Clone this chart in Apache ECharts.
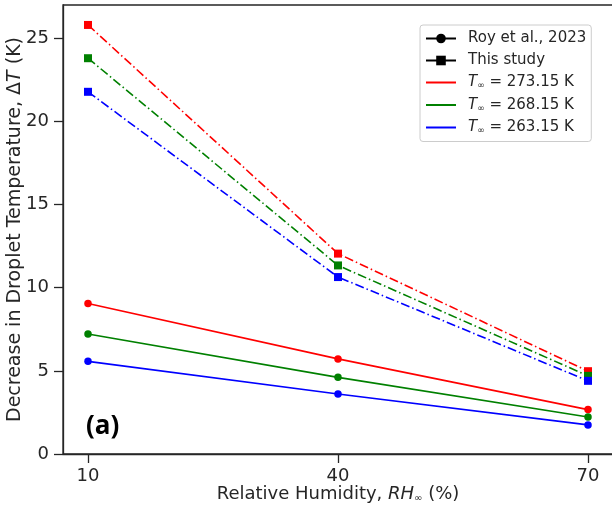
<!DOCTYPE html>
<html><head><meta charset="utf-8">
<script src="https://cdn.jsdelivr.net/npm/echarts@6/dist/echarts.min.js"></script>
<style>html,body{margin:0;padding:0;background:#fff}#c{width:612px;height:506px}</style>
</head><body><div id="c"></div>
<script>
const rh = [10, 40, 70];
const roy273 = [9.05, 5.72, 2.67];
const roy268 = [7.22, 4.61, 2.22];
const roy263 = [5.57, 3.61, 1.75];
const study273 = [25.8, 12.05, 4.98];
const study268 = [23.8, 11.34, 4.70];
const study263 = [21.78, 10.64, 4.40];
const xTicks = [10, 40, 70];
const yTicks = [0, 5, 10, 15, 20, 25];
const tempLabels = {T273: '273.15', T268: '268.15', T263: '263.15'};

const RED = '#ff0000', GREEN = '#008000', BLUE = '#0000ff';
const FONT = 'DejaVu Sans';
const AX = '#262626';
const dashDot = [9, 3, 1.5, 3];

function pts(arr) { return rh.map((x, i) => [x, arr[i]]); }
function dataSeries(arr, color, study) {
  return {
    type: 'line', data: pts(arr), color: color,
    symbol: study ? 'rect' : 'circle', symbolSize: study ? 8 : 7.5,
    lineStyle: {width: 1.6, type: study ? dashDot : 'solid', color: color},
    itemStyle: {color: color}, z: 3, silent: true
  };
}
function dummy(name, color, symbol, size) {
  return {
    name: name, type: 'line', data: [], color: color, symbol: symbol, symbolSize: size,
    lineStyle: {width: 2, color: color}, itemStyle: {color: color}
  };
}

const chart = echarts.init(document.getElementById('c'), null, {renderer: 'canvas'});
chart.setOption({
  animation: false,
  backgroundColor: '#fff',
  textStyle: {fontFamily: FONT},
  grid: {left: 63, top: 5, width: 550, height: 449, outerBoundsMode: 'none', containLabel: false,
    show: true, borderColor: AX, borderWidth: 1.3, backgroundColor: 'transparent'},
  xAxis: {
    type: 'value', min: 7, max: 73,
    axisLine: {show: true, lineStyle: {color: AX, width: 1.3}},
    axisTick: {show: true, length: 9, lineStyle: {color: AX, width: 1.3}, customValues: xTicks},
    axisLabel: {fontSize: 18, color: AX, margin: 13, fontFamily: FONT, customValues: xTicks},
    splitLine: {show: false},
    name: 'Relative Humidity, {i|RH}{s|∞} (%)',
    nameLocation: 'middle', nameGap: 31, nameMoveOverlap: false,
    nameTextStyle: {fontSize: 18, color: AX, fontFamily: FONT,
      rich: {i: {fontSize: 18, fontStyle: 'italic', color: AX, fontFamily: FONT},
             s: {fontSize: 10, color: AX, fontFamily: FONT, padding: [8, 0, 0, 0]}}}
  },
  yAxis: {
    type: 'value', min: 0, max: 27,
    axisLine: {show: true, lineStyle: {color: AX, width: 1.3}},
    axisTick: {show: true, length: 9, lineStyle: {color: AX, width: 1.3}, customValues: yTicks},
    axisLabel: {fontSize: 18, color: AX, margin: 14, fontFamily: FONT, customValues: yTicks},
    splitLine: {show: false},
    name: 'Decrease in Droplet Temperature, Δ{i|T} (K)',
    nameLocation: 'middle', nameGap: 38, nameRotate: 90, nameMoveOverlap: false,
    nameTextStyle: {fontSize: 19, color: AX, fontFamily: FONT,
      rich: {i: {fontSize: 19, fontStyle: 'italic', color: AX, fontFamily: FONT}}}
  },
  legend: {
    orient: 'vertical', left: 420, top: 25,
    padding: [6, 5, 6, 5], itemGap: 7, itemWidth: 30, itemHeight: 12,
    backgroundColor: '#fff', borderColor: '#cccccc', borderWidth: 1, borderRadius: 3,
    data: [
      {name: 'Roy et al., 2023'},
      {name: 'This study'},
      {name: 'T273', itemStyle: {opacity: 0}},
      {name: 'T268', itemStyle: {opacity: 0}},
      {name: 'T263', itemStyle: {opacity: 0}}
    ],
    formatter: function (n) {
      if (tempLabels[n]) return '{i|T}{s|∞} = ' + tempLabels[n] + ' K';
      return n;
    },
    textStyle: {fontSize: 15, color: AX, fontFamily: FONT, padding: [0, 0, 0, 7],
      rich: {i: {fontSize: 15, fontStyle: 'italic', color: AX, fontFamily: FONT},
             s: {fontSize: 9, color: AX, fontFamily: FONT, padding: [7, 0, 0, 0]}}}
  },
  graphic: [{
    type: 'text', left: 86, top: 414,
    style: {text: '(a)', font: 'bold 26px "Open Sans"', fill: '#000'}
  }],
  series: [
    dataSeries(study273, RED, true),
    dataSeries(study268, GREEN, true),
    dataSeries(study263, BLUE, true),
    dataSeries(roy273, RED, false),
    dataSeries(roy268, GREEN, false),
    dataSeries(roy263, BLUE, false),
    dummy('Roy et al., 2023', '#000', 'circle', 8),
    dummy('This study', '#000', 'rect', 8),
    dummy('T273', RED, 'none', 0),
    dummy('T268', GREEN, 'none', 0),
    dummy('T263', BLUE, 'none', 0)
  ]
});
</script></body></html>
